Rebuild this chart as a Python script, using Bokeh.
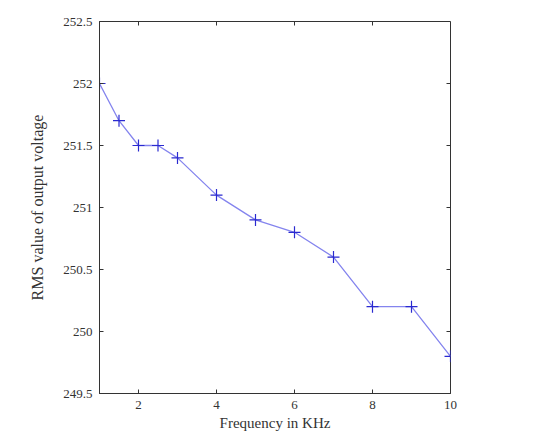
import math
from bokeh.plotting import figure
from bokeh.models import FixedTicker, Range1d
from bokeh.embed import file_html
from bokeh.resources import INLINE

freq = [1, 1.5, 2, 2.5, 3, 4, 5, 6, 7, 8, 9, 10]
vrms = [252.0, 251.7, 251.5, 251.5, 251.4, 251.1, 250.9, 250.8, 250.6, 250.2, 250.2, 249.8]
xticks = [2, 4, 6, 8, 10]
yticks = [249.5, 250, 250.5, 251, 251.5, 252, 252.5]
xlim = [1, 10]
ylim = [249.5, 252.5]

FONT = "Liberation Serif"
DARK = "#333333"

p = figure(output_backend="svg", toolbar_location=None,
           frame_width=351, frame_height=372,
           min_border_left=99, min_border_top=21, min_border_right=60, min_border_bottom=30,
           x_range=Range1d(*xlim), y_range=Range1d(*ylim),
           x_axis_label="Frequency in KHz", y_axis_label="RMS value of output voltage")
p.grid.visible = False
p.outline_line_color = DARK
p.outline_line_width = 1

for ax in list(p.xaxis) + list(p.yaxis):
    ax.minor_tick_line_color = None
    ax.major_tick_in = 4
    ax.major_tick_out = 0
    ax.axis_line_color = DARK
    ax.major_tick_line_color = DARK
    ax.major_label_text_font = FONT
    ax.major_label_text_font_size = "13px"
    ax.major_label_text_color = DARK
    ax.axis_label_text_font = FONT
    ax.axis_label_text_font_style = "normal"
    ax.axis_label_text_font_size = "15px"
    ax.axis_label_text_color = DARK

for ax in p.xaxis:
    ax.ticker = FixedTicker(ticks=xticks)
    ax.major_label_standoff = 7
    ax.axis_label_standoff = 3
for ax in p.yaxis:
    ax.ticker = FixedTicker(ticks=yticks)
    ax.major_label_standoff = 7
    ax.axis_label_standoff = 14
    ax.axis_label_text_font_size = "16px"

# inward ticks on top and right edges (box style)
p.ray(x=xticks, y=[ylim[1]] * len(xticks), length=4, length_units="screen",
      angle=-math.pi / 2, line_color=DARK, line_width=1)
p.ray(x=[xlim[1]] * len(yticks), y=yticks, length=4, length_units="screen",
      angle=math.pi, line_color=DARK, line_width=1)

p.line(freq, vrms, line_color="#8484ee", line_width=1.3)
p.scatter(freq, vrms, marker="cross", size=12, line_color="#2a2ad0", line_width=1.2)

open("out.html", "w").write(file_html(p, INLINE))
